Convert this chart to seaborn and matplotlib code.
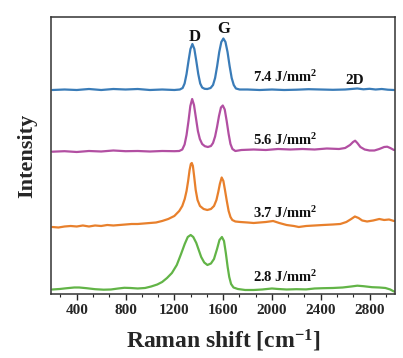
import numpy as np
import pandas as pd
import seaborn as sns
import matplotlib
matplotlib.use("Agg")
from matplotlib import pyplot as plt
from matplotlib.ticker import MultipleLocator, AutoMinorLocator

# Raman spectra (stacked, arbitrary intensity units)
shift_74 = [200, 300, 400, 500, 600, 700, 800, 900, 1000, 1100, 1200, 1245, 1268, 1284, 1300, 1316,
            1332, 1348, 1364, 1380, 1396, 1412, 1428, 1448, 1470, 1497, 1517, 1534, 1551, 1568, 1585,
            1602, 1619, 1636, 1653, 1670, 1687, 1705, 1735, 1800, 1900, 2000, 2100, 2200, 2300,
            2400, 2500, 2600, 2650, 2700, 2750, 2800, 2850, 2900, 2950, 3000]
int_74 = [204, 204.5, 204, 205, 204, 205, 204.5, 205, 204, 204.5, 204, 204.5, 206, 210.5, 220, 233,
          245, 250, 245, 233, 220, 210.5, 206.5, 205.2, 205, 206, 209, 216, 228, 242, 252,
          255.5, 252, 242, 228, 216, 209, 205.5, 204.5, 204.5, 204, 204.5, 204, 204.3, 204.8,
          204.5, 204.2, 204.5, 205, 205.5, 204.7, 205.2, 204.5, 205, 204.3, 204]

shift_56 = [200, 300, 400, 500, 600, 700, 800, 900, 1000, 1100, 1200, 1240, 1265, 1284, 1300, 1316,
            1331, 1346, 1361, 1377, 1393, 1409, 1428, 1450, 1475, 1500, 1517, 1534, 1550, 1566, 1582,
            1597, 1613, 1629, 1645, 1660, 1676, 1700, 1750, 1850, 1950, 2050, 2150, 2250, 2350, 2450,
            2550, 2600, 2640, 2665, 2682, 2700, 2725, 2760, 2800, 2840, 2880, 2920, 2945, 2970, 3000]
int_56 = [142.3, 142.8, 142, 143, 142.5, 143.5, 142.8, 143, 142.5, 143, 142.8, 143, 144.5, 149.5, 159, 173,
          188, 195, 189, 176, 163, 155, 150, 147.8, 147, 148, 151, 157.5, 167, 178, 186.5,
          188.5, 184.5, 173, 160, 150, 145, 143, 144, 144.5, 144, 145, 144.5, 145, 144.5, 145.5,
          145, 146, 149, 152, 153.3, 151, 147, 144.5, 143.5, 143.5, 145, 147, 147.3, 146, 144]

shift_37 = [200, 250, 300, 350, 400, 450, 500, 550, 600, 650, 700, 750, 800, 850, 900, 950, 1000,
            1050, 1100, 1150, 1200, 1240, 1265, 1285, 1300, 1313, 1325, 1335, 1343, 1352, 1362, 1375,
            1390, 1410, 1440, 1470, 1500, 1525, 1545, 1560, 1573, 1588, 1602, 1615, 1630, 1645, 1660,
            1675, 1700, 1740, 1800, 1850, 1900, 1950, 2010, 2060, 2120, 2180, 2220, 2280, 2350, 2420,
            2500, 2560, 2610, 2650, 2680, 2710, 2740, 2780, 2830, 2880, 2920, 2960, 3000]
int_37 = [67, 66.5, 67.5, 68, 67.5, 68.5, 67.5, 68.5, 68, 69, 68.5, 69, 69.5, 70, 70, 70.5, 71,
          71.5, 73, 75, 78, 83, 88, 95, 103, 113, 124, 130, 131, 128, 118, 104,
          94, 88, 85, 84, 85, 88, 94, 102, 110, 116.5, 113, 104, 93, 83, 77,
          74, 72.5, 72, 71.5, 71, 71.5, 72, 73, 71, 69, 68, 67, 68, 68.5, 69,
          69.5, 70, 72, 75, 77.5, 76, 73.5, 72.5, 73.5, 75, 74, 74.5, 73]

shift_28 = [200, 260, 320, 380, 420, 480, 550, 620, 680, 740, 790, 840, 900, 960, 1010, 1060, 1100,
            1140, 1180, 1220, 1255, 1285, 1310, 1334, 1355, 1380, 1400, 1420, 1445, 1471, 1500, 1525,
            1550, 1570, 1590, 1607, 1622, 1637, 1650, 1665, 1685, 1720, 1780, 1850, 1920, 2000, 2050,
            2120, 2200, 2280, 2350, 2420, 2500, 2580, 2650, 2700, 2750, 2820, 2880, 2930, 2970, 3000]
int_28 = [4.5, 5, 5.8, 6.5, 6.5, 5.8, 4.8, 4.3, 4.5, 5.5, 6.2, 6, 5.5, 6, 7.5, 9.5, 12,
          16, 21, 29, 40, 50, 57, 59, 57, 51, 44, 37, 31.5, 29, 30.5, 35,
          45, 54, 57, 53, 41, 27, 17, 10, 6.5, 5, 4, 4, 4.5, 5.5, 5,
          4.5, 4.8, 4.6, 5.5, 5.8, 6, 6.5, 7.5, 8.3, 7.8, 6.8, 6.5, 6, 4.5, 2.5]

series = [
    (shift_74, int_74, "#3a7cb8", "7.4 J/mm$^2$", 217),
    (shift_56, int_56, "#b24fa2", "5.6 J/mm$^2$", 154),
    (shift_37, int_37, "#e8802c", "3.7 J/mm$^2$", 81),
    (shift_28, int_28, "#62b447", "2.8 J/mm$^2$", 17),
]

sns.set_style("ticks")
plt.rcParams['font.family'] = ['Liberation Serif', 'DejaVu Serif']
plt.rcParams['font.weight'] = 'bold'
plt.rcParams['mathtext.fontset'] = 'custom'
plt.rcParams['mathtext.rm'] = 'Liberation Serif:bold'
plt.rcParams['mathtext.it'] = 'Liberation Serif:bold'

fig = plt.figure(figsize=(4.03, 3.58), dpi=100)
ax = fig.add_axes([0.1266, 0.1788, 0.8536, 0.7737])

for x, y, c, lab, ty in series:
    sns.lineplot(x=x, y=y, color=c, linewidth=1.6, ax=ax, sort=False, estimator=None)
    ax.text(1848, ty, lab, fontsize=10.5, fontweight='bold', va='center', ha='left', color='#111111')

ax.text(1364, 257, "D", fontsize=12, fontweight='bold', ha='center', va='center', color='#111111')
ax.text(1602, 265, "G", fontsize=12, fontweight='bold', ha='center', va='center', color='#111111')
ax.text(2682, 214, "2D", fontsize=11, fontweight='bold', ha='center', va='center', color='#111111')

ax.set_xlim(189, 3009)
ax.set_ylim(0, 277)
ax.xaxis.set_major_locator(MultipleLocator(400))
ax.xaxis.set_minor_locator(AutoMinorLocator(3))
ax.set_yticks([])
ax.tick_params(axis='x', which='major', direction='out', length=4, width=1, labelsize=11, pad=3)
ax.tick_params(axis='x', which='minor', direction='out', length=2.5, width=0.8)
for lbl in ax.get_xticklabels():
    lbl.set_fontweight('bold')
for sp in ax.spines.values():
    sp.set_linewidth(1.1)
    sp.set_color('#333333')

ax.set_xlabel("Raman shift [cm$^{-1}$]", fontsize=17, fontweight='bold', labelpad=8)
ax.set_ylabel("Intensity", fontsize=16, fontweight='bold', labelpad=10)

fig.savefig("out.png", dpi=100)
